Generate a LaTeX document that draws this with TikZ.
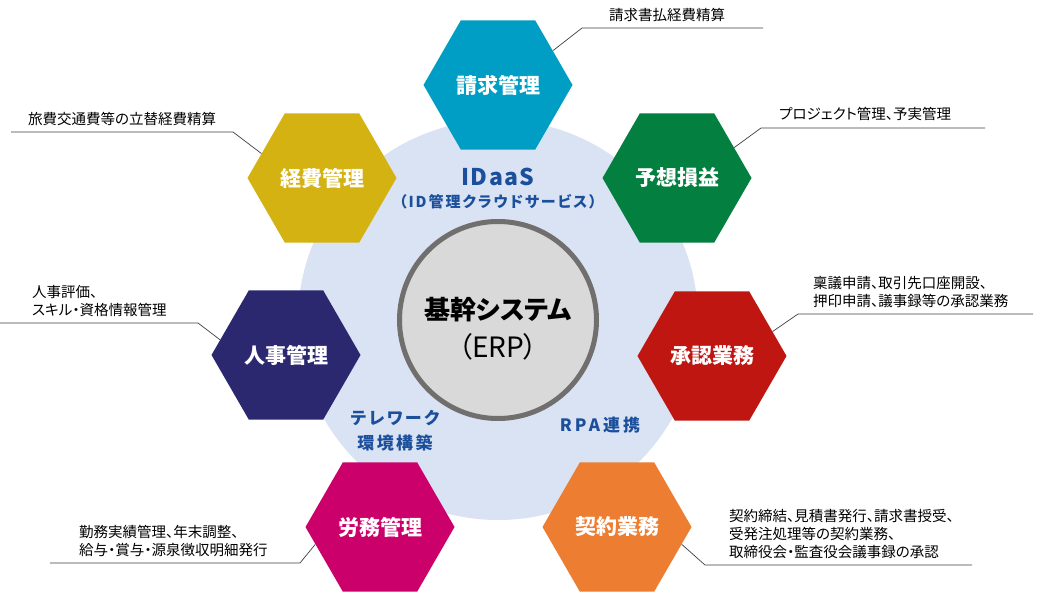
\documentclass[tikz,border=0pt]{standalone}
\usepackage{fontspec}
\setmainfont{Noto Sans CJK JP}[RawFeature=+palt]
\usetikzlibrary{shapes.geometric}
\definecolor{cSeikyu}{HTML}{009EC4}
\definecolor{cYoso}{HTML}{037F3F}
\definecolor{cShonin}{HTML}{C01612}
\definecolor{cKeiyaku}{HTML}{EC7D31}
\definecolor{cRomu}{HTML}{CB006B}
\definecolor{cJinji}{HTML}{2B2870}
\definecolor{cKeihi}{HTML}{D3B212}
\definecolor{bgBlue}{HTML}{DAE3F3}
\definecolor{coreFill}{HTML}{D9D9D9}
\definecolor{coreLine}{HTML}{716E6E}
\definecolor{txtBlue}{HTML}{1B4F9C}
\definecolor{leadGray}{HTML}{404040}
\begin{document}
\begin{tikzpicture}[x=1pt,y=-1pt,
  hexa/.style={regular polygon, regular polygon sides=6, minimum size=149pt, inner sep=0pt,
    text=white, font=\fontsize{21}{24}\selectfont\bfseries},
  note/.style={anchor=west, align=left, inner sep=0pt, font=\fontsize{14.5}{18}\selectfont},
  bluetxt/.style={text=txtBlue, align=center, inner sep=0pt},
  lead/.style={draw=leadGray, line width=0.7pt}]
\path[use as bounding box, fill=white] (0,0) rectangle (1040,593);

% background circle and core
\node[circle, fill=bgBlue, minimum size=400pt, inner sep=0pt] (bg) at (498,320) {};
\node[circle, fill=coreFill, draw=coreLine, line width=5pt, minimum size=197pt, inner sep=0pt,
      align=center] (core) at (498,320) {};
\node[inner sep=0pt, font=\fontsize{26}{30}\selectfont\bfseries] (coreA) at (498,310) {基幹システム};
\node[inner sep=0pt, font=\fontsize{28}{30}\selectfont] (coreB) at (498,347) {（ERP）};

% blue texts
\node[bluetxt, font=\fontsize{23}{26}\selectfont\bfseries\addfontfeature{LetterSpace=6}] (idaas) at (498,177) {IDaaS};
\node[bluetxt, font=\fontsize{15}{18}\selectfont\bfseries\addfontfeature{LetterSpace=13}] (idaas2) at (498,202) {（ID管理クラウドサービス）};
\node[bluetxt, font=\fontsize{17}{25}\selectfont\bfseries\addfontfeature{LetterSpace=14}] (tele) at (395,430.5) {テレワーク\\環境構築};
\node[bluetxt, font=\fontsize{17}{20}\selectfont\bfseries\addfontfeature{LetterSpace=18}] (rpa) at (600,425) {RPA連携};

% hexagons
\node[hexa, fill=cSeikyu] (h1) at (498,85) {請求管理};
\node[hexa, fill=cYoso] (h2) at (677,178) {予想損益};
\node[hexa, fill=cShonin] (h3) at (712,356) {承認業務};
\node[hexa, fill=cKeiyaku] (h4) at (617,527) {契約業務};
\node[hexa, fill=cRomu] (h5) at (380,527) {労務管理};
\node[hexa, fill=cJinji] (h6) at (286,355) {人事管理};
\node[hexa, fill=cKeihi] (h7) at (322,178) {経費管理};

% leader coordinates
\coordinate (c1) at (582,28);  \coordinate (e1) at (763,28);
\coordinate (c2) at (761,128); \coordinate (e2) at (985,128);
\coordinate (c3) at (798,314); \coordinate (e3) at (1033,314);
\coordinate (c4) at (705,565); \coordinate (e4) at (972,565);
\coordinate (c5) at (300,563); \coordinate (e5) at (50,563);
\coordinate (c6) at (198,323); \coordinate (e6) at (0,323);
\coordinate (c7) at (233,132); \coordinate (e7) at (11,132);

\draw[lead] (h1.32) -- (c1) -- (e1);
\draw[lead] (h2.28) -- (c2) -- (e2);
\draw[lead] (h3.22) -- (c3) -- (e3);
\draw[lead] (h4.-15) -- (c4) -- (e4);
\draw[lead] (h5.195) -- (c5) -- (e5);
\draw[lead] (h6.167) -- (c6) -- (e6);
\draw[lead] (h7.158) -- (c7) -- (e7);

% notes
\node[note] (t1) at (609,15) {請求書払経費精算};
\node[note] (t2) at (779,114) {プロジェクト管理、予実管理};
\node[note] (t3) at (813,292) {稟議申請、取引先口座開設、\\押印申請、議事録等の承認業務};
\node[note] (t4) at (729,534) {契約締結、見積書発行、請求書授受、\\受発注処理等の契約業務、\\取締役会・監査役会議事録の承認};
\node[note] (t5) at (79,541.5) {勤務実績管理、年末調整、\\給与・賞与・源泉徴収明細発行};
\node[note] (t6) at (32,301) {人事評価、\\スキル・資格情報管理};
\node[note] (t7) at (28,119) {旅費交通費等の立替経費精算};
\end{tikzpicture}
\end{document}
